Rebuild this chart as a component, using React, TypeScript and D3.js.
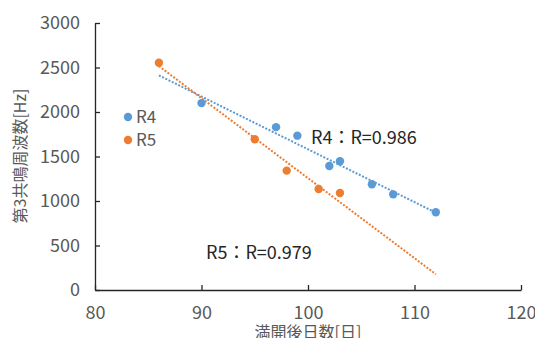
import React, { useEffect, useRef } from 'react';
import * as d3 from 'd3';

// data
const r4Days = [90, 97, 99, 102, 103, 106, 108, 112];
const r4Freq = [2100, 1830, 1734, 1393, 1446, 1188, 1075, 873];
const r5Days = [86, 95, 98, 101, 103];
const r5Freq = [2554, 1693, 1341, 1135, 1090];
const xTicks = [80, 90, 100, 110, 120];
const yTicks = [0, 500, 1000, 1500, 2000, 2500, 3000];
const seriesNames = ['R4', 'R5'];
const rLabels = ['R4：R=0.986', 'R5：R=0.979'];
const colors = ['#5B9BD5', '#ED7D31'];

const FONT = '"Noto Sans CJK JP", "Noto Sans", sans-serif';

function fit(xs: number[], ys: number[]) {
  const mx = d3.mean(xs) as number;
  const my = d3.mean(ys) as number;
  let sxy = 0, sxx = 0;
  xs.forEach((x, i) => { sxy += (x - mx) * (ys[i] - my); sxx += (x - mx) * (x - mx); });
  const b = sxy / sxx;
  return (x: number) => my + b * (x - mx);
}

const App = () => {
  const ref = useRef<SVGSVGElement>(null);

  useEffect(() => {
    const svg = d3.select(ref.current);
    svg.selectAll('*').remove();

    const x = d3.scaleLinear().domain([80, 120]).range([95, 521]);
    const y = d3.scaleLinear().domain([0, 3000]).range([290, 23]);

    // axes (ticks point inside)
    const gx = svg.append('g').attr('transform', 'translate(0,290)');
    gx.call(d3.axisBottom(x).tickValues(xTicks).tickFormat(d3.format('d')).tickSizeInner(-5).tickSizeOuter(0).tickPadding(14));
    const gy = svg.append('g').attr('transform', 'translate(95,0)');
    gy.call(d3.axisLeft(y).tickValues(yTicks).tickFormat(d3.format('d')).tickSizeInner(-5).tickSizeOuter(0).tickPadding(15));
    [gx, gy].forEach(g => {
      g.select('.domain').attr('stroke', '#262626').attr('stroke-width', 1.3);
      g.selectAll('.tick line').attr('stroke', '#262626').attr('stroke-width', 1.3);
      g.selectAll('.tick text').attr('fill', '#595959').style('font-size', '18px').style('font-family', FONT);
    });
    gx.selectAll('.tick text').attr('dy', '0.85em');

    // axis titles
    svg.append('text')
      .attr('x', 308).attr('y', 338)
      .attr('text-anchor', 'middle')
      .attr('fill', '#595959')
      .style('font-size', '16px').style('font-family', FONT)
      .text('満開後日数[日]');
    svg.append('text')
      .attr('transform', 'translate(26,156) rotate(-90)')
      .attr('text-anchor', 'middle')
      .attr('fill', '#595959')
      .style('font-size', '16px').style('font-family', FONT)
      .text('第3共鳴周波数[Hz]');

    const series = [
      { xs: r4Days, ys: r4Freq },
      { xs: r5Days, ys: r5Freq },
    ];

    // trend lines from 86 to 112
    series.forEach((s, i) => {
      const f = fit(s.xs, s.ys);
      const line = d3.line<number>().x(d => x(d)).y(d => y(f(d)));
      svg.append('path')
        .attr('d', line([86, 112]))
        .attr('fill', 'none')
        .attr('stroke', colors[i])
        .attr('stroke-width', 2)
        .attr('stroke-dasharray', '2 1.6');
    });

    // points
    series.forEach((s, i) => {
      svg.append('g').selectAll('circle')
        .data(s.xs)
        .enter().append('circle')
        .attr('cx', d => x(d))
        .attr('cy', (d, j) => y(s.ys[j]))
        .attr('r', 4.2)
        .attr('fill', colors[i]);
    });

    // legend
    seriesNames.forEach((n, i) => {
      const ly = 117 + i * 23;
      svg.append('circle').attr('cx', 128).attr('cy', ly).attr('r', 4.2).attr('fill', colors[i]);
      svg.append('text')
        .attr('x', 136).attr('y', ly).attr('dy', '0.36em')
        .attr('fill', '#595959')
        .style('font-size', '17px').style('font-family', FONT)
        .text(n);
    });

    // R labels
    svg.append('text')
      .attr('x', 311).attr('y', 138).attr('dy', '0.36em')
      .attr('fill', '#262626')
      .style('font-size', '18px').style('font-family', FONT)
      .text(rLabels[0]);
    svg.append('text')
      .attr('x', 206).attr('y', 253).attr('dy', '0.36em')
      .attr('fill', '#262626')
      .style('font-size', '18px').style('font-family', FONT)
      .text(rLabels[1]);
  }, []);

  return (
    <svg ref={ref} width={535} height={338}
      style={{ position: 'absolute', left: 0, top: 0, background: '#fff' }} />
  );
};

export default App;
